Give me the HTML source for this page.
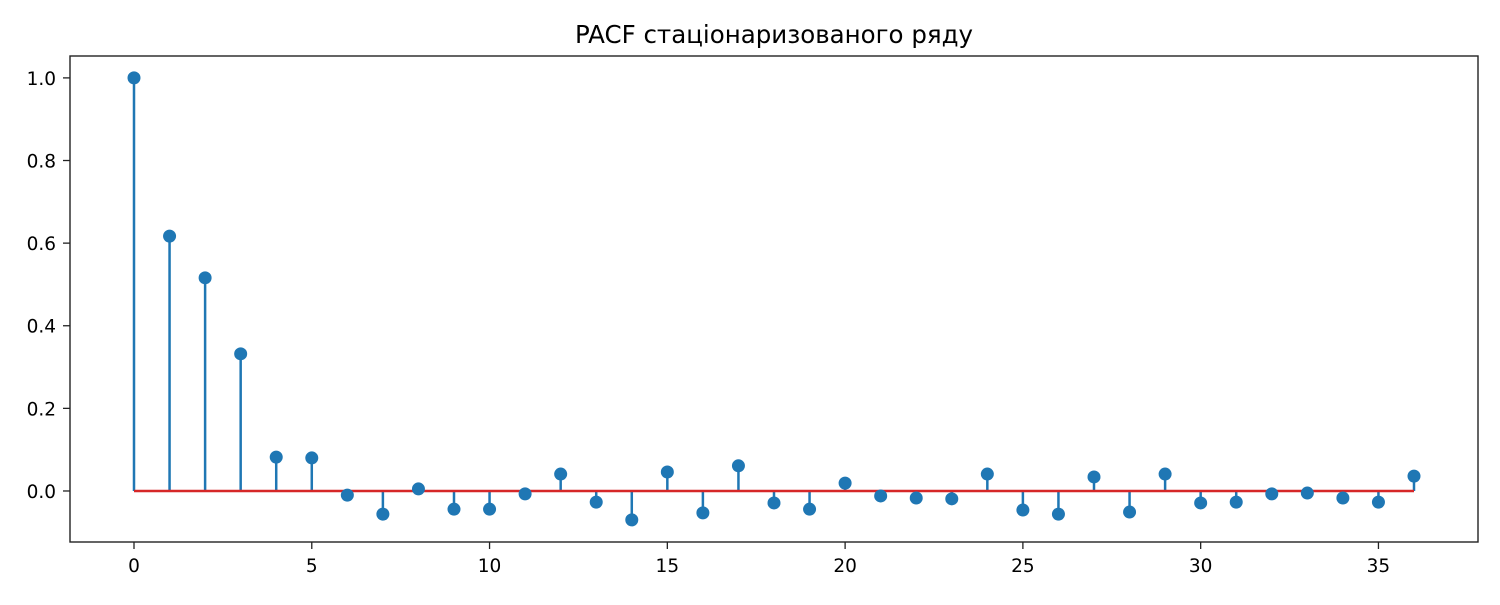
<!DOCTYPE html>
<html><head><meta charset="utf-8"><style>
body{margin:0;background:#fff;}
svg text{font-family:"DejaVu Sans","Liberation Sans",sans-serif;}
</style></head><body>
<svg id="chart" width="1500" height="600" xmlns="http://www.w3.org/2000/svg">
<rect width="1500" height="600" fill="#fff"/>
<text x="774" y="43" font-size="24.5" text-anchor="middle">PACF стаціонаризованого ряду</text>
<g id="plot"></g>
</svg>
<script>
const lags=[0,1,2,3,4,5,6,7,8,9,10,11,12,13,14,15,16,17,18,19,20,21,22,23,24,25,26,27,28,29,30,31,32,33,34,35,36];
const pacfValues=[1.0,0.617,0.516,0.332,0.082,0.080,-0.010,-0.056,0.005,-0.044,-0.044,-0.007,0.041,-0.027,-0.070,0.046,-0.053,0.061,-0.029,-0.044,0.019,-0.012,-0.017,-0.019,0.041,-0.046,-0.056,0.034,-0.051,0.041,-0.029,-0.027,-0.007,-0.005,-0.017,-0.027,0.036];
const xTicks=[0,5,10,15,20,25,30,35];
const yTicks=[0.0,0.2,0.4,0.6,0.8,1.0];
const L=70,R=1478,T=56,B=542;
const xMin=-1.8,xMax=37.8,yMin=-0.1235,yMax=1.053;
const xs=v=>L+(v-xMin)/(xMax-xMin)*(R-L);
const ys=v=>B-(v-yMin)/(yMax-yMin)*(B-T);
const g=document.getElementById('plot');
const NS='http://www.w3.org/2000/svg';
function mk(t,a){const e=document.createElementNS(NS,t);for(const k in a)e.setAttribute(k,a[k]);g.appendChild(e);return e;}
lags.forEach((l,i)=>{
 const s=mk('line',{x1:xs(l),x2:xs(l),y1:ys(0),y2:ys(pacfValues[i]),stroke:'#1f77b4','stroke-width':2.5});
 
 
});
const base=mk('line',{x1:xs(lags[0]),x2:xs(lags[lags.length-1]),y1:ys(0),y2:ys(0),stroke:'#d62728','stroke-width':2.5});


lags.forEach((l,i)=>{
 const c=mk('circle',{cx:xs(l),cy:ys(pacfValues[i]),r:6.5,fill:'#1f77b4'});
 
 
});
const fr=mk('rect',{x:L,y:T,width:R-L,height:B-T,fill:'none',stroke:'#222','stroke-width':1.4});


xTicks.forEach(v=>{
 const t=mk('line',{x1:xs(v),x2:xs(v),y1:B,y2:B+7,stroke:'#222','stroke-width':1.3});
 
 
 const tx=mk('text',{x:xs(v),y:B+30,'font-size':18.5,'text-anchor':'middle'});
 tx.textContent=String(v);
 
 
});
yTicks.forEach(v=>{
 const t=mk('line',{x1:L-7,x2:L,y1:ys(v),y2:ys(v),stroke:'#222','stroke-width':1.3});
 
 
 const tx=mk('text',{x:L-14,y:ys(v)+7,'font-size':18.5,'text-anchor':'end'});
 tx.textContent=v.toFixed(1);
 
 
});
</script>
</body></html>
